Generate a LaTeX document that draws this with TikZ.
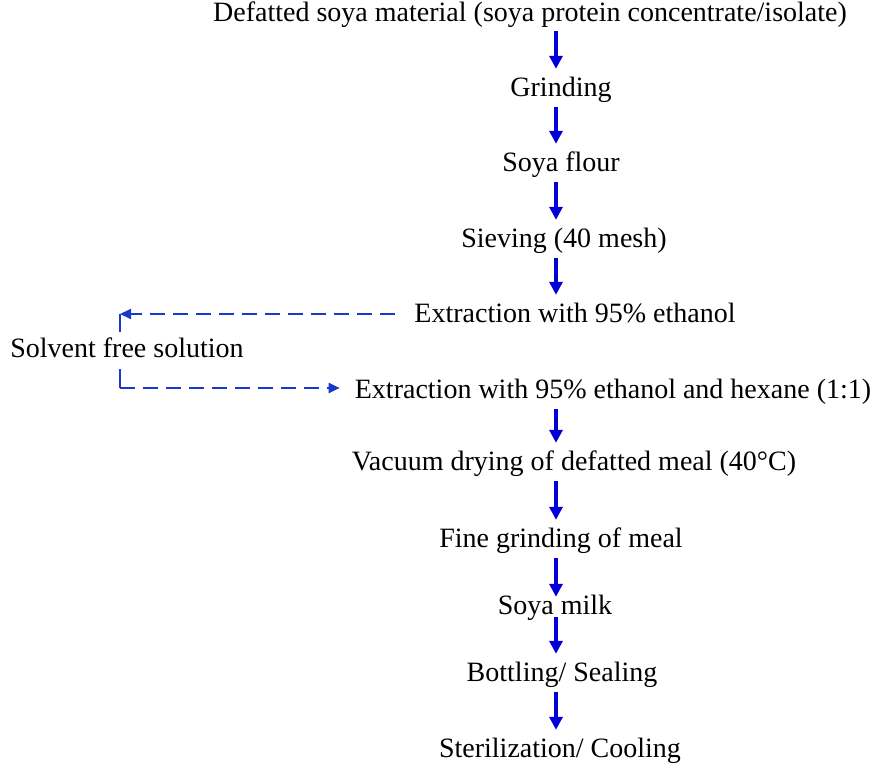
\documentclass[tikz,border=0pt]{standalone}
\usepackage{fontspec}
\setmainfont{Liberation Serif}
\usetikzlibrary{arrows.meta}
\definecolor{flowblue}{RGB}{0,0,215}
\definecolor{dashblue}{RGB}{25,55,205}
\begin{document}
\begin{tikzpicture}[x=1pt,y=-1pt,
  stepnode/.style={anchor=base,inner sep=0pt,text height=27pt,text depth=11pt,
    font=\fontsize{28}{34}\selectfont},
  flow/.style={draw=flowblue,line width=3.6pt,-{Triangle[length=13pt,width=13pt]}},
  dashflow/.style={draw=dashblue,line width=2pt,dash pattern=on 15pt off 8pt,
    -{Triangle[length=11pt,width=10pt]}},
  stub/.style={draw=dashblue,line width=2pt}]
\useasboundingbox (0,0) rectangle (876,769);
\coordinate (ax) at (556,0);
\coordinate (lx) at (120,0);
\node[stepnode] (n1) at (530,21) {Defatted soya material (soya protein concentrate/isolate)};
\node[stepnode] (n2) at (561,96) {Grinding};
\node[stepnode] (n3) at (561,171) {Soya flour};
\node[stepnode] (n4) at (564,247) {Sieving (40 mesh)};
\node[stepnode] (n5) at (575,322) {Extraction with 95\% ethanol};
\node[stepnode] (sfs) at (127,357) {Solvent free solution};
\node[stepnode] (n6) at (613,398) {Extraction with 95\% ethanol and hexane (1:1)};
\node[stepnode] (n7) at (574,470) {Vacuum drying of defatted meal (40°C)};
\node[stepnode] (n8) at (561,547) {Fine grinding of meal};
\node[stepnode] (n9) at (555,614) {Soya milk};
\node[stepnode] (n10) at (562,681) {Bottling/ Sealing};
\node[stepnode] (n11) at (560,757) {Sterilization/ Cooling};
\draw[flow,shorten <=-1pt] (n1.south -| ax) -- (n2.north -| ax);
\draw[flow] (n2.south -| ax) -- (n3.north -| ax);
\draw[flow] (n3.south -| ax) -- (n4.north -| ax);
\draw[flow] (n4.south -| ax) -- (n5.north -| ax);
\draw[flow] (n6.south -| ax) -- (n7.north -| ax);
\draw[flow] (n7.south -| ax) -- (n8.north -| ax);
\draw[flow,shorten >=-10pt] (n8.south -| ax) -- (n9.north -| ax);
\draw[flow,shorten <=-8pt] (n9.south -| ax) -- (n10.north -| ax);
\draw[flow] (n10.south -| ax) -- (n11.north -| ax);
\coordinate (c1) at (lx |- n5.west);
\coordinate (c2) at ([yshift=2pt]lx |- n6.west);
\draw[dashflow,shorten <=19pt] (n5.west) -- (c1);
\draw[stub] (c1) -- ([yshift=-2pt]sfs.north -| lx);
\draw[stub] ([yshift=-1pt]sfs.south -| lx) -- (c2);
\draw[dashflow,shorten >=15pt] (c2) -- ([yshift=2pt]n6.west);
\end{tikzpicture}
\end{document}
